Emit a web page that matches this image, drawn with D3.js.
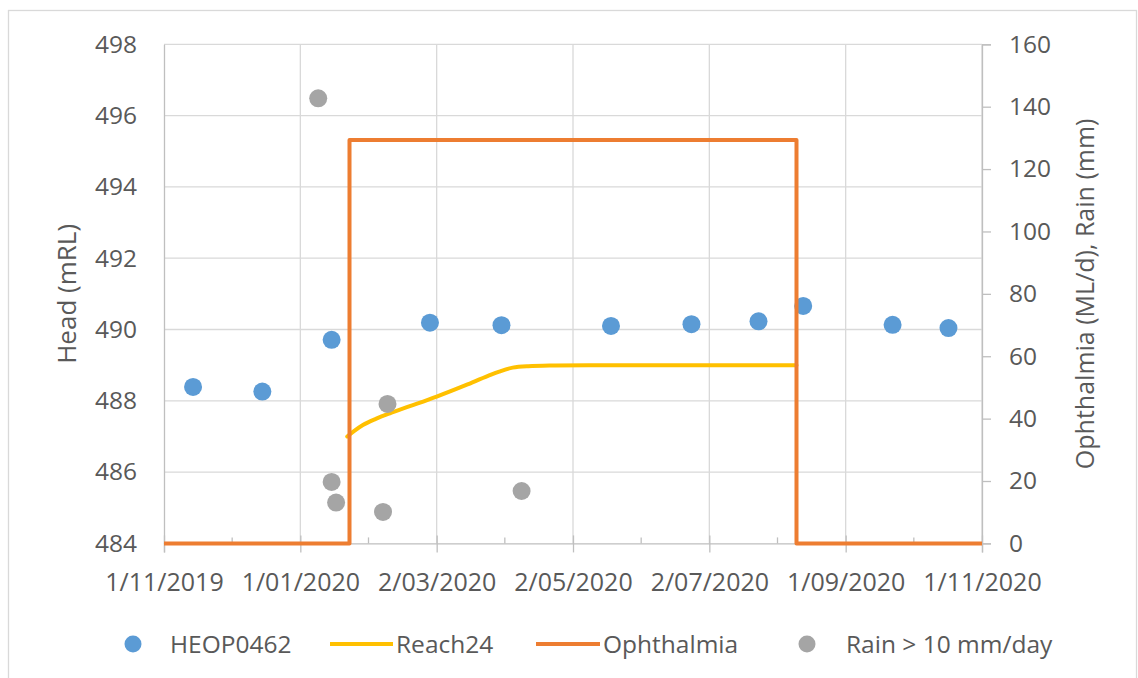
<!DOCTYPE html>
<html>
<head>
<meta charset="utf-8">
<script src="https://cdn.jsdelivr.net/npm/d3@7"></script>
<style>
  html, body { margin: 0; padding: 0; background: #ffffff; }
  svg { display: block; }
  text { font-family: "Open Sans", "Noto Sans", sans-serif; fill: #595959; }
</style>
</head>
<body>
<svg id="chart" width="1138" height="678"></svg>
<script>
// Bore HEOP0462 groundwater head (mRL)
const headDates = ["2019-11-14","2019-12-15","2020-01-15","2020-02-28","2020-03-31","2020-05-19",
                   "2020-06-24","2020-07-24","2020-08-13","2020-09-22","2020-10-17"];
const headValues = [488.39, 488.26, 489.71, 490.19, 490.12, 490.10, 490.15, 490.23, 490.66, 490.13, 490.04];

// Modelled head at Reach24 (mRL)
const reachDates = ["2020-01-22","2020-01-25","2020-01-29","2020-02-04","2020-02-10","2020-02-19",
                    "2020-03-02","2020-03-15","2020-03-25","2020-03-30","2020-04-05","2020-04-12",
                    "2020-04-24","2020-05-09","2020-08-10"];
const reachValues = [487.00, 487.15, 487.32, 487.50, 487.65, 487.85, 488.12, 488.44, 488.70, 488.82,
                     488.93, 488.97, 488.99, 489.00, 489.00];

// Ophthalmia release (ML/d), stepped on/off
const ophDates = ["2019-11-01","2020-01-23","2020-01-23","2020-08-10","2020-08-10","2020-11-01"];
const ophValues = [0, 0, 129.3, 129.3, 0, 0];

// Daily rainfall events above 10 mm (mm)
const rainDates = ["2020-01-09","2020-01-15","2020-01-17","2020-02-07","2020-02-09","2020-04-09"];
const rainValues = [142.7, 19.7, 13.1, 10.1, 44.7, 16.8];

// Axis ticks
const xTickDates = ["2019-11-01","2020-01-01","2020-03-02","2020-05-02","2020-07-02","2020-09-01","2020-11-01"];
const leftTicks = [484, 486, 488, 490, 492, 494, 496, 498];
const rightTicks = [0, 20, 40, 60, 80, 100, 120, 140, 160];

const seriesNames = ["HEOP0462", "Reach24", "Ophthalmia", "Rain > 10 mm/day"];
const colors = { head: "#5B9BD5", reach: "#FFC000", oph: "#ED7D31", rain: "#A5A5A5" };

const parse = d3.utcParse("%Y-%m-%d");
const fmt = d3.utcFormat("%-d/%m/%Y");

const svg = d3.select("#chart");
const plot = { left: 164, right: 982, top: 44.3, bottom: 543.4 };

// Chart frame
svg.append("rect")
  .attr("x", 8.5).attr("y", 10.5).attr("width", 1128).attr("height", 672)
  .attr("fill", "none").attr("stroke", "#d9d9d9").attr("stroke-width", 1.3);

const xTicks = xTickDates.map(parse);
const x = d3.scaleUtc().domain([xTicks[0], xTicks[xTicks.length - 1]]).range([plot.left, plot.right]);
const yL = d3.scaleLinear().domain([484, 498]).range([plot.bottom, plot.top]);
const yR = d3.scaleLinear().domain([0, 160]).range([plot.bottom, plot.top]);

// Gridlines
const grid = svg.append("g").attr("stroke", "#d9d9d9").attr("stroke-width", 1.3);
grid.selectAll("line.h").data(leftTicks.slice(1)).join("line")
  .attr("x1", plot.left).attr("x2", plot.right)
  .attr("y1", d => yL(d)).attr("y2", d => yL(d));
grid.selectAll("line.v").data(xTicks.slice(1)).join("line")
  .attr("x1", d => x(d)).attr("x2", d => x(d))
  .attr("y1", plot.top).attr("y2", plot.bottom);

// Bottom axis: major ticks crossing the line, minor ticks inside
const minorTicks = d3.pairs(xTicks).map(([a, b]) => new Date((a.getTime() + b.getTime()) / 2));
const axisColor = "#bfbfbf";
const xAxis = svg.append("g").attr("transform", `translate(0,${plot.bottom})`)
  .call(d3.axisBottom(x).tickValues(xTicks).tickFormat(fmt).tickSize(9).tickPadding(21));
xAxis.select(".domain").attr("stroke", axisColor).attr("stroke-width", 1.3);
xAxis.selectAll(".tick line").attr("stroke", axisColor).attr("stroke-width", 1.3).attr("y1", -8);
xAxis.selectAll(".tick text").attr("font-size", 25).attr("fill", "#595959")
  .attr("font-family", "Open Sans");
xAxis.append("g").selectAll("line").data(minorTicks).join("line")
  .attr("x1", d => x(d)).attr("x2", d => x(d)).attr("y1", -6).attr("y2", 0)
  .attr("stroke", axisColor).attr("stroke-width", 1.3);

// Left axis: line and labels only
const yAxisL = svg.append("g").attr("transform", `translate(${plot.left},0)`)
  .call(d3.axisLeft(yL).tickValues(leftTicks).tickSize(0).tickPadding(27));
yAxisL.select(".domain").attr("stroke", axisColor).attr("stroke-width", 1.3);
yAxisL.selectAll(".tick text").attr("font-size", 24.5).attr("fill", "#595959")
  .attr("font-family", "Open Sans");

// Right axis: outward ticks
const yAxisR = svg.append("g").attr("transform", `translate(${plot.right},0)`)
  .call(d3.axisRight(yR).tickValues(rightTicks).tickSize(9).tickPadding(18));
yAxisR.select(".domain").attr("stroke", axisColor).attr("stroke-width", 1.3);
yAxisR.selectAll(".tick line").attr("stroke", axisColor).attr("stroke-width", 1.3);
yAxisR.selectAll(".tick text").attr("font-size", 24.5).attr("fill", "#595959")
  .attr("font-family", "Open Sans");

// Axis titles
svg.append("text")
  .attr("transform", `translate(76,${(plot.top + plot.bottom) / 2}) rotate(-90)`)
  .attr("text-anchor", "middle").attr("font-size", 26).text("Head (mRL)");
svg.append("text")
  .attr("transform", `translate(1094,${(plot.top + plot.bottom) / 2}) rotate(-90)`)
  .attr("text-anchor", "middle").attr("font-size", 25).text("Ophthalmia (ML/d), Rain (mm)");

// HEOP0462 observations
svg.append("g").selectAll("circle").data(headDates.map((d, i) => [parse(d), headValues[i]])).join("circle")
  .attr("cx", d => x(d[0])).attr("cy", d => yL(d[1])).attr("r", 9).attr("fill", colors.head);

// Reach24 modelled head
const reachLine = d3.line().curve(d3.curveMonotoneX).x(d => x(d[0])).y(d => yL(d[1]));
svg.append("path").datum(reachDates.map((d, i) => [parse(d), reachValues[i]]))
  .attr("d", reachLine).attr("fill", "none").attr("stroke", colors.reach)
  .attr("stroke-width", 4).attr("stroke-linejoin", "round").attr("stroke-linecap", "round");

// Ophthalmia release
const ophLine = d3.line().x(d => x(d[0])).y(d => yR(d[1]));
svg.append("path").datum(ophDates.map((d, i) => [parse(d), ophValues[i]]))
  .attr("d", ophLine).attr("fill", "none").attr("stroke", colors.oph)
  .attr("stroke-width", 4).attr("stroke-linejoin", "round");

// Rain events
svg.append("g").selectAll("circle").data(rainDates.map((d, i) => [parse(d), rainValues[i]])).join("circle")
  .attr("cx", d => x(d[0])).attr("cy", d => yR(d[1])).attr("r", 9).attr("fill", colors.rain);

// Legend
const legY = 644;
const leg = svg.append("g").attr("font-size", 24.5);
leg.append("circle").attr("cx", 133).attr("cy", legY).attr("r", 8.5).attr("fill", colors.head);
leg.append("text").attr("x", 170).attr("y", legY).attr("dy", "0.35em").text(seriesNames[0]);
leg.append("line").attr("x1", 330).attr("x2", 393).attr("y1", legY).attr("y2", legY)
  .attr("stroke", colors.reach).attr("stroke-width", 4);
leg.append("text").attr("x", 396).attr("y", legY).attr("dy", "0.35em").text(seriesNames[1]);
leg.append("line").attr("x1", 536).attr("x2", 600).attr("y1", legY).attr("y2", legY)
  .attr("stroke", colors.oph).attr("stroke-width", 4);
leg.append("text").attr("x", 603).attr("y", legY).attr("dy", "0.35em").text(seriesNames[2]);
leg.append("circle").attr("cx", 807).attr("cy", legY).attr("r", 8.5).attr("fill", colors.rain);
leg.append("text").attr("x", 846).attr("y", legY).attr("dy", "0.35em").text(seriesNames[3]);
</script>
</body>
</html>
